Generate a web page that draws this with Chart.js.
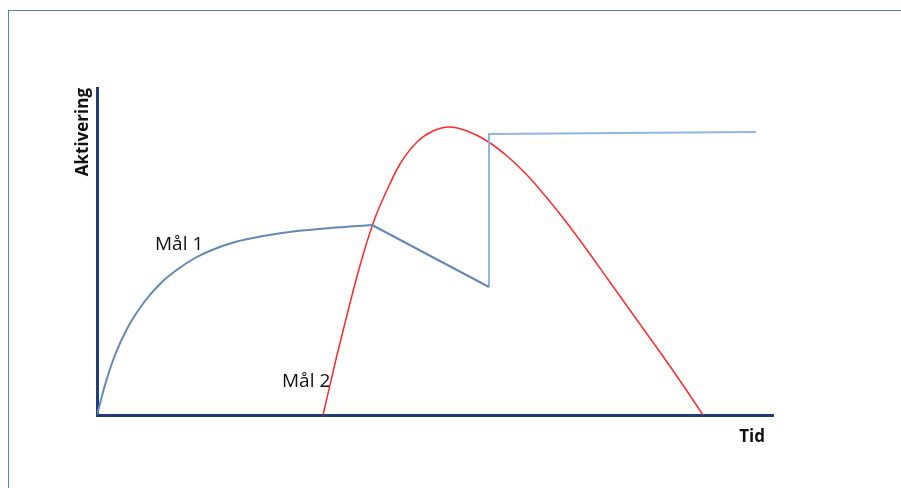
<!DOCTYPE html>
<html>
<head>
<meta charset="utf-8">
<script src="https://cdn.jsdelivr.net/npm/chart.js@4"></script>
<style>
  html, body { margin: 0; padding: 0; background: #fff; overflow: hidden; }
  #wrap { position: relative; width: 901px; height: 488px; }
  #frame { position: absolute; left: 8px; top: 10px; width: 1000px; height: 1000px; border: 1px solid #4f81bd; box-sizing: border-box; }
  canvas { position: absolute; left: 0; top: 0; }
</style>
</head>
<body>
<div id="wrap">
  <div id="frame"></div>
  <canvas id="chart" width="901" height="488"></canvas>
</div>
<script>
// Mål 1: rising curve, then straight drop, then jump up and flat
const goal1CurveX = [0, 8, 18, 31, 48, 65, 81, 98, 115, 138, 166, 200, 233, 275];
const goal1CurveY = [0, 30, 60, 88, 114, 133, 146, 157, 165, 173, 179, 184, 187, 190];
const goal1DropX = [275, 392];
const goal1DropY = [190, 128];
const goal1JumpX = [392, 392, 659];
const goal1JumpY = [128, 281, 283];

// Mål 2: red curve
const goal2X = [226, 240, 253, 266, 278, 290, 303, 320, 336, 353, 370, 390, 410, 430, 450, 470, 490, 510, 530, 550, 570, 590, 606];
const goal2Y = [0, 60, 112, 160, 197, 225, 251, 273, 284, 288, 284, 274, 259, 240, 217, 192, 165, 137, 109, 81, 53, 24, 0];

// text labels placed in data units
const labelText = ['Mål 1', 'Mål 2'];
const labelX = [58, 185];
const labelY = [170, 33];

const xTitle = 'Tid';
const yTitle = 'Aktivering';

const pts = (xs, ys) => xs.map((x, i) => ({ x: x, y: ys[i] }));

const textPlugin = {
  id: 'texts',
  afterDraw(chart) {
    const ctx = chart.ctx;
    const area = chart.chartArea;
    const sx = chart.scales.x, sy = chart.scales.y;
    ctx.save();
    ctx.fillStyle = '#111';
    ctx.font = '19px "Open Sans"';
    ctx.textAlign = 'left';
    ctx.textBaseline = 'middle';
    labelText.forEach((t, i) => {
      ctx.fillText(t, sx.getPixelForValue(labelX[i]), sy.getPixelForValue(labelY[i]));
    });
    ctx.font = 'bold 17px "Open Sans"';
    ctx.textAlign = 'right';
    ctx.textBaseline = 'middle';
    ctx.fillText(xTitle, area.right - 8, area.bottom + 22);
    ctx.translate(area.left - 9, area.top);
    ctx.rotate(-Math.PI / 2);
    ctx.textAlign = 'right';
    ctx.textBaseline = 'alphabetic';
    ctx.fillText(yTitle, 0, 0);
    ctx.restore();
  }
};

new Chart(document.getElementById('chart'), {
  type: 'line',
  data: {
    datasets: [
      { data: pts(goal1CurveX, goal1CurveY), borderColor: '#6389b3', borderWidth: 2, cubicInterpolationMode: 'monotone', pointRadius: 0 },
      { data: pts(goal1DropX, goal1DropY), borderColor: '#6389b3', borderWidth: 2, tension: 0, pointRadius: 0 },
      { data: pts(goal1JumpX, goal1JumpY), borderColor: '#8fb5e2', borderWidth: 2, tension: 0, pointRadius: 0 },
      { data: pts(goal2X, goal2Y), borderColor: '#ff2a2a', borderWidth: 1.5, cubicInterpolationMode: 'monotone', pointRadius: 0 }
    ]
  },
  options: {
    responsive: false,
    animation: false,
    events: [],
    layout: { padding: { left: 97, top: 88, right: 128, bottom: 73 } },
    plugins: { legend: { display: false }, tooltip: { enabled: false } },
    scales: {
      x: {
        type: 'linear', min: 0, max: 676,
        ticks: { display: false },
        grid: { display: false, drawTicks: false },
        border: { display: true, color: '#1f3c7a', width: 3 }
      },
      y: {
        type: 'linear', min: 0, max: 327,
        ticks: { display: false },
        grid: { display: false, drawTicks: false },
        border: { display: true, color: '#1f3c7a', width: 3 }
      }
    }
  },
  plugins: [textPlugin]
});
</script>
</body>
</html>
